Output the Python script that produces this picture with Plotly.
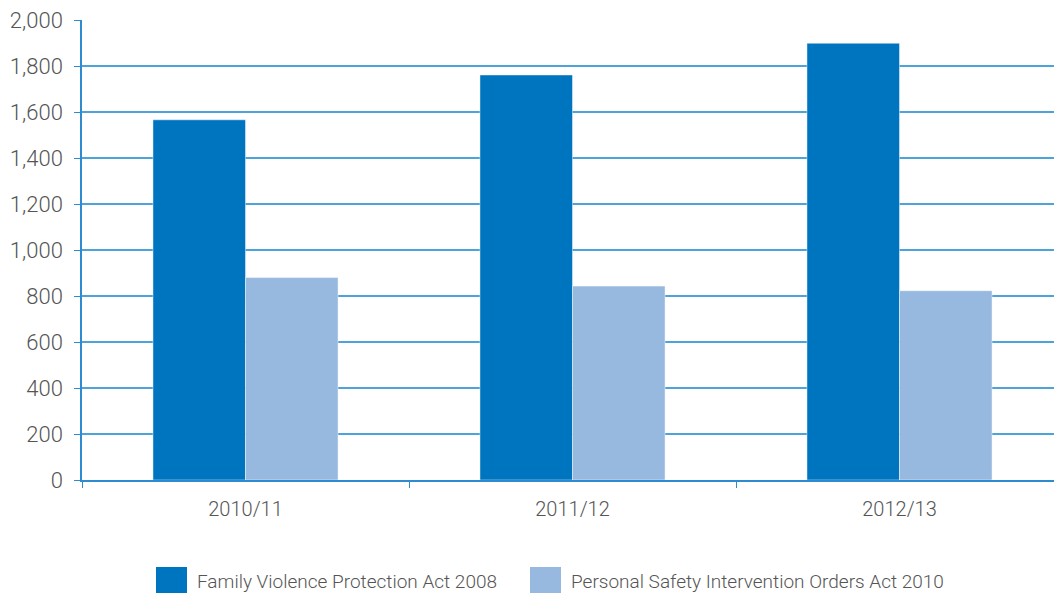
import plotly.graph_objects as go

# Financial years and applications per Act
years = ["2010/11", "2011/12", "2012/13"]
family_violence = [1566, 1761, 1899]
personal_safety = [880, 843, 823]
series_names = [
    "Family Violence Protection Act 2008",
    "Personal Safety Intervention Orders Act 2010",
]
y_ticks = [0, 200, 400, 600, 800, 1000, 1200, 1400, 1600, 1800, 2000]

DARK = "#0075BF"
LIGHT = "#97B9E0"
GRID = "#4FA3DB"
AXIS = "#2E8BCF"
TEXT = "#555555"
FONT = "Roboto"

W, H = 1054, 593
ML, MR, MT, MB = 82, 0, 20, 113
CAT_PX = 327  # width of one category slot in pixels

fig = go.Figure()
fig.add_trace(go.Bar(
    x=years, y=family_violence, name=series_names[0],
    marker=dict(color=DARK, line=dict(color="rgba(255,255,255,0.45)", width=1)),
    showlegend=False,
))
fig.add_trace(go.Bar(
    x=years, y=personal_safety, name=series_names[1],
    marker=dict(color=LIGHT, line=dict(color="rgba(255,255,255,0.45)", width=1)),
    showlegend=False,
))

# Legend drawn as swatches + labels below the plot
plot_h = H - MT - MB
plot_w = W - ML - MR


def px_x(px):
    return (px - ML) / plot_w


def px_y(py):
    return (H - MB - py) / plot_h


legend_items = [
    (series_names[0], DARK, 156, 187),
    (series_names[1], LIGHT, 530, 561),
]
for label, color, x0, x1 in legend_items:
    fig.add_shape(
        type="rect", xref="paper", yref="paper",
        x0=px_x(x0), x1=px_x(x1), y0=px_y(567), y1=px_y(594),
        fillcolor=color, line=dict(width=0),
    )
    fig.add_annotation(
        text=label, xref="paper", yref="paper",
        x=px_x(x1 + 8), y=px_y(581), xanchor="left", yanchor="middle",
        showarrow=False, font=dict(family=FONT, size=19, color=TEXT, weight=300),
    )

fig.update_layout(
    width=W, height=H,
    margin=dict(l=ML, r=MR, t=MT, b=MB),
    paper_bgcolor="white", plot_bgcolor="white",
    barmode="group", bargap=0.434, bargroupgap=0,
    font=dict(family=FONT, size=20, color=TEXT, weight=300),
)
fig.update_xaxes(
    type="category", range=[-0.5, -0.5 + plot_w / CAT_PX],
    showline=True, linecolor=AXIS, linewidth=2,
    ticks="outside", tickson="boundaries", ticklen=6, tickcolor=AXIS, tickwidth=1,
    ticklabelstandoff=10,
    showgrid=False,
    tickfont=dict(family=FONT, size=20, color=TEXT, weight=300),
)
fig.update_yaxes(
    range=[0, 2000], tickvals=y_ticks, tickformat=",d",
    showline=True, linecolor=AXIS, linewidth=1.5,
    ticks="outside", ticklen=6, tickcolor=AXIS, tickwidth=1,
    ticklabelstandoff=7,
    showgrid=True, gridcolor=GRID, gridwidth=1.5,
    zeroline=False,
    tickfont=dict(family=FONT, size=22, color=TEXT, weight=300),
)

fig.write_html("out.html")
